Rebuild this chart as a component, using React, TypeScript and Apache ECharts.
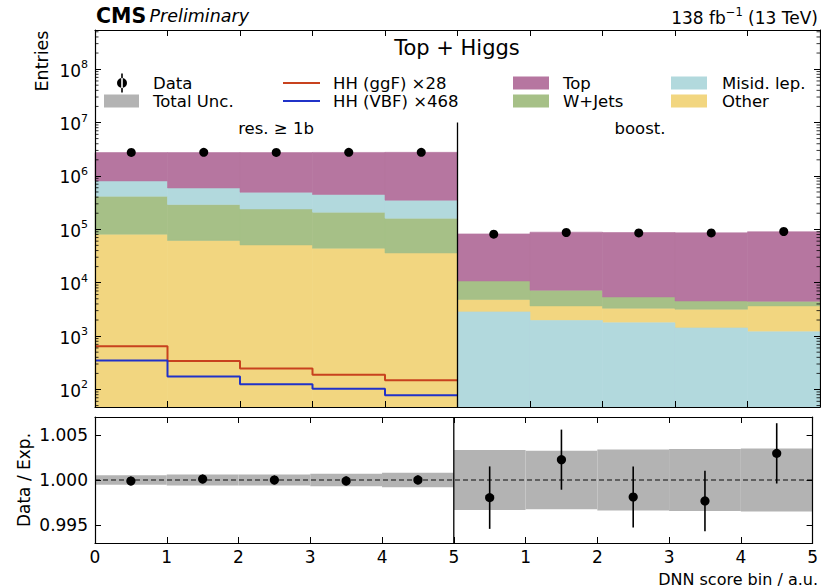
import React, { useEffect, useRef } from 'react';
import * as echarts from 'echarts';

const FONT = 'DejaVu Sans';

// ---- data (bins 0-4: "res. >= 1b", bins 5-9: "boost.") ----
const binStart = [0, 1, 2, 3, 4, 5, 6, 7, 8, 9];
const xTickLabels = ['0', '1', '2', '3', '4', '5', '1', '2', '3', '4', '5'];
const regionLabels = ['res. \u2265 1b', 'boost.'];

const topYield = [1.93e6, 2.14e6, 2.235e6, 2.3e6, 2.41e6, 7.12e4, 8.11e4, 8.16e4, 8.14e4, 8.55e4];
const wjetsYield = [3.36e5, 2.29e5, 1.9e5, 1.65e5, 1.25e5, 5.96e3, 3.56e3, 2.09e3, 1.37e3, 8.2e2];
const misidYield = [3.89e5, 3.05e5, 2.54e5, 2.4e5, 1.9e5, 2.84e3, 1.96e3, 1.77e3, 1.42e3, 1.2e3];
const otherYield = [8.1e4, 6.17e4, 5.1e4, 4.43e4, 3.61e4, 2.0e3, 1.72e3, 1.56e3, 1.77e3, 2.48e3];

const stackOrderRes = ['Other', 'W+Jets', 'Misid. lep.', 'Top'];
const stackOrderBoost = ['Misid. lep.', 'Other', 'W+Jets', 'Top'];

const hhGgF = [647, 343, 247, 188, 149];
const hhVbf = [349, 175, 126, 103, 78];

const dataCounts = [2.75e6, 2.76e6, 2.75e6, 2.77e6, 2.76e6, 8.1e4, 8.71e4, 8.57e4, 8.57e4, 9.1e4];
const ratio = [0.99989, 1.00011, 1.0, 0.9999, 1.00001, 0.99804, 1.00226, 0.99811, 0.99767, 1.00296];
const ratioErr = [0.0005, 0.0005, 0.0005, 0.0005, 0.0005, 0.00347, 0.00334, 0.00339, 0.00337, 0.00335];
const uncHalf = [0.00052, 0.0006, 0.0006, 0.0007, 0.0008, 0.00333, 0.00324, 0.00339, 0.00345, 0.0035];

const YMIN = 47;
const YMAX = 5.4e8;
const RMIN = 0.993;
const RMAX = 1.007;

const colors: Record<string, string> = {
  Top: '#b676a0',
  'W+Jets': '#a6c087',
  'Misid. lep.': '#b2d9dd',
  Other: '#f2d680',
};
const yields: Record<string, number[]> = {
  Top: topYield,
  'W+Jets': wjetsYield,
  'Misid. lep.': misidYield,
  Other: otherYield,
};

function stackData(name: string) {
  return binStart.map((i) => {
    const order = i < 5 ? stackOrderRes : stackOrderBoost;
    const k = order.indexOf(name);
    let lo = 0;
    for (let j = 0; j < k; j++) lo += yields[order[j]][i];
    const hi = lo + yields[name][i];
    return [i, Math.max(lo, YMIN), hi];
  });
}

function stackSeries(name: string) {
  const color = colors[name];
  return {
    type: 'custom',
    name,
    xAxisIndex: 0,
    yAxisIndex: 0,
    z: 2,
    data: stackData(name),
    encode: { x: 0, y: [1, 2] },
    itemStyle: { color },
    renderItem: (_p: any, api: any) => {
      const x0 = api.value(0);
      const p0 = api.coord([x0, api.value(1)]);
      const p1 = api.coord([x0 + 1, api.value(2)]);
      return {
        type: 'rect',
        shape: { x: p0[0], y: p1[1], width: p1[0] - p0[0], height: p0[1] - p1[1] },
        style: { fill: color, stroke: color, lineWidth: 0.6 },
      };
    },
  };
}

function stepData(vals: number[]) {
  const d = vals.map((v, i) => [i, v]);
  d.push([vals.length, vals[vals.length - 1]]);
  return d;
}

const minorVals: number[][] = [];
for (let e = 1; e <= 8; e++) {
  for (let k = 2; k <= 9; k++) {
    const v = k * Math.pow(10, e);
    if (v > YMIN && v < YMAX) minorVals.push([0, v]);
  }
}

const legendText = (pad: number) => ({
  fontFamily: FONT,
  fontSize: 16.5,
  color: '#000',
  lineHeight: 18,
  padding: [0, 0, 0, pad],
});

// thin horizontal line icon inside a 37x13 box (tiny corner marks fix the box)
const lineIcon = 'path://M0,5.5H37V7.5H0Z M0,0L0.01,0L0,0.01Z M37,13L36.99,13L37,12.99Z';

export default function App() {
  const ref = useRef<HTMLDivElement>(null);
  useEffect(() => {
    const chart = echarts.init(ref.current!, null, { renderer: 'svg' });
    const axisLine = { show: true, onZero: false, lineStyle: { color: '#000', width: 1.2 } };
    const tick = { show: true, inside: true, length: 6, lineStyle: { color: '#000', width: 1 } };
    const xBase = { type: 'value', min: 0, max: 10, interval: 1, z: 10, axisLine, axisTick: tick, splitLine: { show: false } };

    const option: any = {
      animation: false,
      backgroundColor: '#fff',
      textStyle: { fontFamily: FONT },
      grid: [
        { left: 95, top: 30, width: 725, height: 377 },
        { left: 95, top: 417, width: 725, height: 126 },
      ],
      xAxis: [
        { ...xBase, gridIndex: 0, position: 'bottom', axisLabel: { show: false } },
        { ...xBase, gridIndex: 0, position: 'top', axisLabel: { show: false } },
        {
          ...xBase,
          gridIndex: 1,
          position: 'bottom',
          axisLabel: {
            show: true,
            margin: 5,
            fontSize: 17,
            fontFamily: FONT,
            color: '#000',
            formatter: (v: number) => xTickLabels[Math.round(v)] ?? '',
          },
        },
        { ...xBase, gridIndex: 1, position: 'top', axisLabel: { show: false } },
      ],
      yAxis: [
        {
          type: 'log',
          logBase: 10,
          gridIndex: 0,
          position: 'left',
          min: YMIN,
          max: YMAX,
          z: 10,
          axisLine,
          axisTick: tick,
          splitLine: { show: false },
          axisLabel: {
            margin: 7,
            color: '#000',
            formatter: (v: number) => {
              const l = Math.log10(v);
              const e = Math.round(l);
              if (Math.abs(l - e) > 1e-6) return '';
              return `{b|10}{s|${e}}`;
            },
            rich: {
              b: { fontSize: 17, fontFamily: FONT, color: '#000', lineHeight: 20, verticalAlign: 'bottom' },
              s: { fontSize: 11, fontFamily: FONT, color: '#000', lineHeight: 11, verticalAlign: 'top' },
            },
          },
        },
        {
          type: 'log',
          logBase: 10,
          gridIndex: 0,
          position: 'right',
          min: YMIN,
          max: YMAX,
          z: 10,
          axisLine,
          axisTick: tick,
          splitLine: { show: false },
          axisLabel: { show: false },
        },
        {
          type: 'value',
          gridIndex: 1,
          position: 'left',
          min: RMIN,
          max: RMAX,
          minInterval: 0.005,
          maxInterval: 0.005,
          z: 10,
          axisLine,
          axisTick: tick,
          splitLine: { show: false },
          axisLabel: {
            margin: 7,
            fontSize: 17,
            fontFamily: FONT,
            color: '#000',
            formatter: (v: number) => {
              const q = Math.round(v / 0.005);
              if (Math.abs(v - q * 0.005) > 1e-7) return '';
              return v.toFixed(3);
            },
          },
        },
        {
          type: 'value',
          gridIndex: 1,
          position: 'right',
          min: RMIN,
          max: RMAX,
          minInterval: 0.005,
          maxInterval: 0.005,
          z: 10,
          axisLine,
          axisTick: tick,
          splitLine: { show: false },
          axisLabel: { show: false },
        },
      ],
      legend: [
        {
          left: 117, top: 73.5, padding: 0, orient: 'vertical', itemWidth: 10, itemHeight: 19, itemGap: 0,
          selectedMode: false, textStyle: legendText(21),
          data: [{ name: 'Data', icon: 'path://M4.2,0H5.8V19H4.2Z M0,9.5A5,5 0 1 0 10,9.5A5,5 0 1 0 0,9.5Z' }],
        },
        {
          left: 104, top: 92, padding: 0, orient: 'vertical', itemWidth: 35, itemHeight: 13, itemGap: 0,
          selectedMode: false, textStyle: legendText(9),
          data: [{ name: 'Total Unc.', icon: 'rect' }],
        },
        {
          left: 283, top: 74, padding: 0, orient: 'vertical', itemWidth: 37, itemHeight: 13, itemGap: 0,
          selectedMode: false, textStyle: legendText(8),
          data: [
            { name: 'HH (ggF) \u00d728', icon: lineIcon },
            { name: 'HH (VBF) \u00d7468', icon: lineIcon },
          ],
        },
        {
          left: 513, top: 74, padding: 0, orient: 'vertical', itemWidth: 36, itemHeight: 13, itemGap: 0,
          selectedMode: false, textStyle: legendText(9),
          data: [{ name: 'Top', icon: 'rect' }, { name: 'W+Jets', icon: 'rect' }],
        },
        {
          left: 671, top: 74, padding: 0, orient: 'vertical', itemWidth: 36, itemHeight: 13, itemGap: 0,
          selectedMode: false, textStyle: legendText(10),
          data: [{ name: 'Misid. lep.', icon: 'rect' }, { name: 'Other', icon: 'rect' }],
        },
      ],
      graphic: [
        {
          type: 'text', x: 96, y: 16,
          style: {
            text: '{a|CMS} {b|Preliminary}', verticalAlign: 'middle', align: 'left',
            rich: {
              a: { fontSize: 20.5, fontWeight: 'bold', fontFamily: FONT, fill: '#000' },
              b: { fontSize: 17.5, fontStyle: 'italic', fontFamily: FONT, fill: '#000' },
            },
          },
        },
        {
          type: 'text', x: 818, y: 16,
          style: {
            text: '{n|138 fb}{s|\u22121}{n| (13 TeV)}', verticalAlign: 'middle', align: 'right',
            rich: {
              n: { fontSize: 17, fontFamily: FONT, fill: '#000', lineHeight: 20, verticalAlign: 'bottom' },
              s: { fontSize: 11.5, fontFamily: FONT, fill: '#000', lineHeight: 11, verticalAlign: 'top' },
            },
          },
        },
        {
          type: 'text', x: 457, y: 48,
          style: { text: 'Top + Higgs', fontSize: 21, fontFamily: FONT, fill: '#000', align: 'center', verticalAlign: 'middle' },
        },
        {
          type: 'text', x: 276, y: 128,
          style: { text: regionLabels[0], fontSize: 16.5, fontFamily: FONT, fill: '#000', align: 'center', verticalAlign: 'middle' },
        },
        {
          type: 'text', x: 640, y: 128,
          style: { text: regionLabels[1], fontSize: 16.5, fontFamily: FONT, fill: '#000', align: 'center', verticalAlign: 'middle' },
        },
        {
          type: 'text', x: 42, y: 61, rotation: Math.PI / 2,
          style: { text: 'Entries', fontSize: 17.5, fontFamily: FONT, fill: '#000', align: 'center', verticalAlign: 'middle' },
        },
        {
          type: 'text', x: 24, y: 480, rotation: Math.PI / 2,
          style: { text: 'Data / Exp.', fontSize: 17, fontFamily: FONT, fill: '#000', align: 'center', verticalAlign: 'middle' },
        },
        {
          type: 'text', x: 818, y: 579,
          style: { text: 'DNN score bin / a.u.', fontSize: 16, fontFamily: FONT, fill: '#000', align: 'right', verticalAlign: 'middle' },
        },
      ],
      series: [
        stackSeries('Other'),
        stackSeries('W+Jets'),
        stackSeries('Misid. lep.'),
        stackSeries('Top'),
        {
          type: 'line',
          name: 'HH (ggF) \u00d728',
          xAxisIndex: 0,
          yAxisIndex: 0,
          z: 4,
          step: 'end',
          symbol: 'none',
          symbolKeepAspect: true,
          data: stepData(hhGgF),
          itemStyle: { color: '#c8421e' },
          lineStyle: { color: '#c8421e', width: 2 },
        },
        {
          type: 'line',
          name: 'HH (VBF) \u00d7468',
          xAxisIndex: 0,
          yAxisIndex: 0,
          z: 4,
          step: 'end',
          symbol: 'none',
          symbolKeepAspect: true,
          data: stepData(hhVbf),
          itemStyle: { color: '#2032c8' },
          lineStyle: { color: '#2032c8', width: 2 },
        },
        {
          type: 'line',
          xAxisIndex: 0,
          yAxisIndex: 0,
          z: 6,
          symbol: 'none',
          silent: true,
          data: [[5, YMIN], [5, 1e7]],
          lineStyle: { color: '#000', width: 1.3 },
        },
        {
          type: 'scatter',
          name: 'Data',
          xAxisIndex: 0,
          yAxisIndex: 0,
          z: 7,
          symbol: 'circle',
          symbolSize: 9,
          symbolKeepAspect: true,
          itemStyle: { color: '#000', opacity: 1 },
          data: binStart.map((i) => [i + 0.5, dataCounts[i]]),
        },
        {
          type: 'custom',
          xAxisIndex: 0,
          yAxisIndex: 0,
          z: 11,
          silent: true,
          data: minorVals,
          encode: { x: 0, y: 1 },
          renderItem: (params: any, api: any) => {
            const y = api.coord([0, api.value(1)])[1];
            const cs = params.coordSys;
            return {
              type: 'group',
              children: [
                { type: 'line', shape: { x1: cs.x, y1: y, x2: cs.x + 3.5, y2: y }, style: { stroke: '#000', lineWidth: 0.8 } },
                { type: 'line', shape: { x1: cs.x + cs.width - 3.5, y1: y, x2: cs.x + cs.width, y2: y }, style: { stroke: '#000', lineWidth: 0.8 } },
              ],
            };
          },
        },
        {
          type: 'custom',
          name: 'Total Unc.',
          xAxisIndex: 2,
          yAxisIndex: 2,
          z: 2,
          itemStyle: { color: '#b3b3b3' },
          data: binStart.map((i) => [i, 1 - uncHalf[i], 1 + uncHalf[i]]),
          encode: { x: 0, y: [1, 2] },
          renderItem: (_p: any, api: any) => {
            const x0 = api.value(0);
            const p0 = api.coord([x0, api.value(1)]);
            const p1 = api.coord([x0 + 1, api.value(2)]);
            return {
              type: 'rect',
              shape: { x: p0[0], y: p1[1], width: p1[0] - p0[0], height: p0[1] - p1[1] },
              style: { fill: '#b3b3b3' },
            };
          },
        },
        {
          type: 'line',
          xAxisIndex: 2,
          yAxisIndex: 2,
          z: 3,
          symbol: 'none',
          silent: true,
          data: [[0, 1], [10, 1]],
          lineStyle: { color: '#444', width: 1.5, type: [5, 3] },
        },
        {
          type: 'line',
          xAxisIndex: 2,
          yAxisIndex: 2,
          z: 6,
          symbol: 'none',
          silent: true,
          data: [[5, RMIN], [5, RMAX]],
          lineStyle: { color: '#000', width: 1.3 },
        },
        {
          type: 'custom',
          xAxisIndex: 2,
          yAxisIndex: 2,
          z: 7,
          data: binStart.map((i) => [i + 0.5, ratio[i], ratioErr[i]]),
          encode: { x: 0, y: 1 },
          renderItem: (_p: any, api: any) => {
            const x = api.value(0);
            const r = api.value(1);
            const e = api.value(2);
            const c = api.coord([x, r]);
            const lo = api.coord([x, r - e]);
            const hi = api.coord([x, r + e]);
            return {
              type: 'group',
              children: [
                { type: 'line', shape: { x1: c[0], y1: lo[1], x2: c[0], y2: hi[1] }, style: { stroke: '#000', lineWidth: 1.6 } },
                { type: 'circle', shape: { cx: c[0], cy: c[1], r: 4.6 }, style: { fill: '#000' } },
              ],
            };
          },
        },
      ],
    };
    chart.setOption(option);
    return () => chart.dispose();
  }, []);
  return <div ref={ref} style={{ position: 'absolute', left: 0, top: 0, width: 821, height: 588 }} />;
}
